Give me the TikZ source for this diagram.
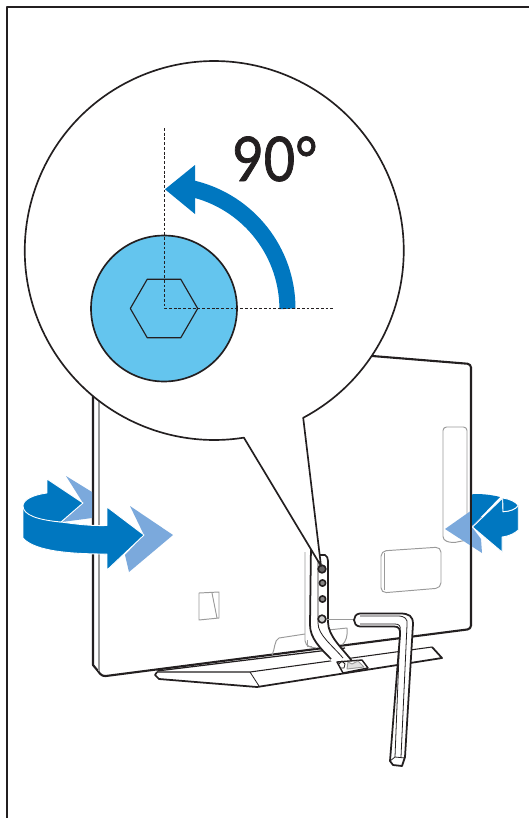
\documentclass[tikz,border=0pt]{standalone}
\usepackage{fontspec}
\setmainfont{Lato}
\newfontfamily\anglefont[RawFeature={embolden=1.3}]{Lato}
\definecolor{cblue}{HTML}{0077C0}
\definecolor{clight}{HTML}{7BA9DC}
\definecolor{csky}{HTML}{64C5EE}
\definecolor{cink}{HTML}{231F20}
\definecolor{cgrey}{HTML}{9A9A9A}
\tikzset{
  every picture/.style={x=0.02cm, y=-0.02cm, line join=round},
  frameline/.style={draw=cink, line width=0.9pt},
  outline/.style={draw=cink, line width=1pt},
  thinline/.style={draw=cink, line width=0.45pt},
  greyline/.style={draw=cgrey, line width=0.55pt},
  lensline/.style={draw=cink, line width=0.95pt, fill=#1},
  lensline/.default=white,
  guide/.style={draw=cink, line width=0.85pt, dash pattern=on 1.6pt off 1.1pt},
  bigarrow/.style={fill=cblue, draw=white, line width=0.5pt},
  ghostarrow/.style={fill=clight},
  screw/.style={circle, draw=cink, fill=#1, line width=0.9pt, inner sep=0pt, minimum size=4.4pt},
  title/.style={font=\anglefont\fontsize{35}{35}\selectfont, text=cink, inner sep=0pt},
}

\begin{document}
\begin{tikzpicture}
  \useasboundingbox (0,0) rectangle (529,818);
  \fill[white] (0,0) rectangle (529,818);
  \draw[frameline] (7,818) -- (7,7) -- (529,7);
  % rear of the set
  \draw[outline, line width=1.2pt] (93,380) -- (93,665) -- (98,671) [rounded corners=2pt] -- (102,676.5) -- (471,629) -- (471,364) -- (360,355);
  \draw[greyline, line width=0.8pt] (99,380) -- (99,671);
  \draw[thinline, line width=0.7pt] (157,671) -- (345,648);
  \draw[greyline, rounded corners=2pt] (443,540) -- (443,427) -- (467,427) -- (467,540) -- (452,543) -- cycle;
  \draw[greyline, rounded corners=3pt] (381,593) -- (381,551) -- (441,547) -- (441,588) -- cycle;
  \draw[greyline, rounded corners=1pt] (384,590) -- (384,553);
  \draw[greyline] (199,620) -- (199,593) -- (219,592) -- (219,618) -- cycle (212,593) -- (217,618);
  \draw[greyline] (272,655) .. controls (275,650) and (274,640) .. (279,638) -- (305,634);
  \draw[greyline] (328,630) -- (347,628) .. controls (348,635) and (346,642) .. (342,645);
  \draw[greyline, rounded corners=3pt] (305,552) -- (305,646) -- (316,648);
  \draw[greyline] (307,640) -- (307,646) -- (312,646);
  % base
  \draw[outline] (157,672) -- (155,675) -- (159,679) -- (257,687) -- (442,658) -- (432,647);
  \draw[thinline, line width=0.6pt] (432,647) -- (250,672) -- (157,672);
  \draw[thinline] (250,672) -- (259,686);
  % neck and foot
  \path[fill=white] (311,545) -- (310,625) .. controls (310,638) and (320,648) .. (332,662) -- (352,662) .. controls (342,648) and (328,636) .. (328,622) -- (328,560) -- (325,555) -- (318,550) -- cycle;
  \draw[outline] (311,545) -- (310,625) .. controls (310,638) and (320,648) .. (331,659);
  \draw[outline] (318,555) -- (325,555) .. controls (327,556) and (328,558) .. (328,561) -- (328,622) .. controls (328,636) and (342,648) .. (352,661);
  \draw[thinline] (318,555) -- (318,623) .. controls (318,635) and (332,645) .. (343,658);
  \draw[outline, fill=white, line width=0.8pt] (337,662) -- (343,673) -- (368,668) -- (362,660) -- cycle;
  \draw[greyline, fill=cgrey!30] (347,669) -- (348,662) -- (352,664) -- (358,661) -- (364,667) -- cycle;
  \draw[thinline] (339,664) -- (342,661) -- (345,664) -- (344,668) -- (341,668);
  % screws
  \node[screw=cink!70] (screwa) at (322,569) {};
  \foreach \n/\y in {b/583, c/599} {
    \node[screw=cink!55, minimum size=3.6pt] (screw\n) at (322.5,\y) {};
  }
  \node[screw=cgrey!50] (screwd) at (322,619) {};
  % hex key
  \coordinate (keyend) at (355,619);
  \draw[greyline] (screwd) -- (keyend);
  \draw[outline, fill=white] (360,613.5) -- (400,613.5) .. controls (409,613.5) and (413,616) .. (413,624) -- (405,757) -- (402,766) -- (393,765) -- (390,761) -- (400,635) .. controls (400.5,629) and (399,626.5) .. (394,626.5) -- (360,626.5) .. controls (352,626) and (352,614) .. (360,613.5) -- cycle;
  \draw[thinline] (360,616) -- (398,616) .. controls (405,616) and (408,619) .. (407,625) -- (401,757);
  \draw[thinline] (360,624) -- (395,624) .. controls (399,624) and (401,626) .. (400,630) -- (395,757);
  \draw[thinline] (390,761) -- (395,757) -- (405,758);
  % magnifier
  \coordinate (lens) at (214,250);
  \draw[lensline] (303.2,417.8) arc[start angle=-62, end angle=279, radius=3.79cm] -- (321,566) -- cycle;
  \coordinate (bolt) at (164,308.5);
  \draw[lensline=csky] (bolt) circle[radius=1.46cm];
  \draw[thinline, line width=0.65pt] (130.3,308.5) -- (147.2,279.3) -- (180.8,279.3) -- (197.7,308.5) -- (180.8,337.7) -- (147.2,337.7) -- cycle;
  \fill[cblue] (295.5,308.5) arc[start angle=0, end angle=76.3, radius=2.63cm] -- (195,165) -- (165,189.3) -- (195,214) -- (195,198) arc[start angle=74.4, end angle=0, radius=2.31cm] -- cycle;
  \coordinate (guidetop) at (164.5,128);
  \coordinate (guideend) at (335,308.5);
  \draw[guide] (guidetop) -- (164.5,308.5) -- (guideend);
  \node[title, anchor=base west] (angle) at (232,181) {\scalebox{0.88}[1]{90°}};
  % turning arrow, left
  \fill[ghostarrow] (66,476) -- (92,492) -- (92,518) -- (62,522) -- (83,503) -- cycle;
  \fill[ghostarrow] (130,506) -- (173,535) -- (129,572) -- (125,555) -- (144,535) -- cycle;
  \path[bigarrow] (23,506) .. controls (28,515) and (45,520) .. (61,522) .. controls (75,524) and (90,526) .. (107,525.5) -- (107,507) -- (144,535) -- (107,570) -- (107,554) .. controls (75,554) and (35,552) .. (23,538) -- cycle;
  \path[bigarrow] (47,479) -- (83,503) -- (61,522) .. controls (38,520) and (23,515) .. (23,506) .. controls (23,500) and (32,495) .. (47,493) -- cycle;
  % turning arrow, right
  \fill[ghostarrow] (445,529) -- (472,510) -- (472,517) -- (484,517) -- (472,527) -- (481,539) -- (482,553) -- cycle;
  \draw[outline, line width=1.2pt] (471,480) -- (471,560);
  \path[bigarrow, draw=none] (472,494.3) .. controls (482,493.5) and (492,495) .. (500,497) -- (473,525) -- (472,525) -- cycle;
  \path[bigarrow] (472.5,527) -- (502.7,498) -- (503,511.7) .. controls (510,511.5) and (516,509) .. (518.3,505.5) -- (518.3,530) .. controls (515,533) and (510,536) .. (502,537) -- (502,552) -- cycle;
  \path[bigarrow] (502.7,498) .. controls (510,499) and (516,502) .. (518.3,505.5) .. controls (516,509) and (510,511.5) .. (503,511.7) -- cycle;
\end{tikzpicture}
\end{document}
